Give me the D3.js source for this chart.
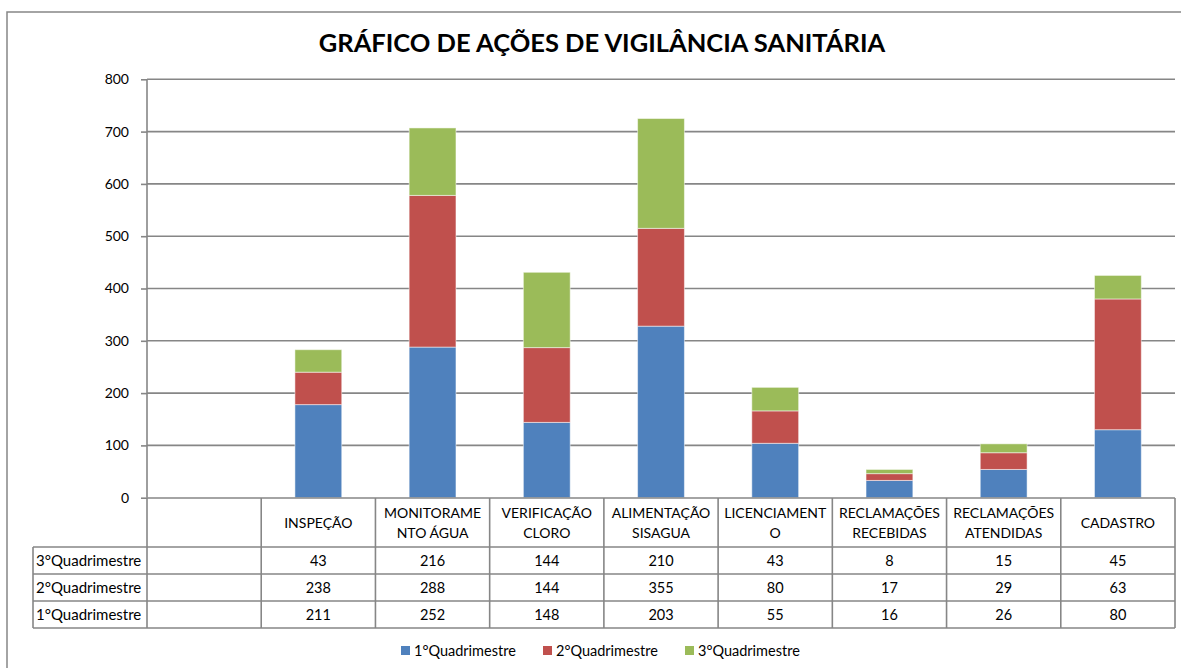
<!DOCTYPE html>
<html>
<head>
<meta charset="utf-8">
<script src="https://cdn.jsdelivr.net/npm/d3@7"></script>
<style>
  html, body { margin: 0; background: #fff; overflow: hidden; }
  svg { display: block; }
  text { font-family: Lato, "Open Sans", sans-serif; fill: #000; }
</style>
</head>
<body>
<div id="chart"></div>
<script>
// categories (first column is empty in the original sheet)
var categories = ["", "INSPEÇÃO", "MONITORAMENTO ÁGUA", "VERIFICAÇÃO CLORO", "ALIMENTAÇÃO SISAGUA",
                  "LICENCIAMENTO", "RECLAMAÇÕES RECEBIDAS", "RECLAMAÇÕES ATENDIDAS", "CADASTRO"];
// header text as it wraps in the table cells
var headerLines = [[], ["INSPEÇÃO"], ["MONITORAME", "NTO ÁGUA"], ["VERIFICAÇÃO", "CLORO"], ["ALIMENTAÇÃO", "SISAGUA"],
                   ["LICENCIAMENT", "O"], ["RECLAMAÇÕES", "RECEBIDAS"], ["RECLAMAÇÕES", "ATENDIDAS"], ["CADASTRO"]];

var seriesNames = ["1°Quadrimestre", "2°Quadrimestre", "3°Quadrimestre"];
var colors = ["#4F81BD", "#C0504D", "#9BBB59"];

// bar segments as drawn in the chart
var q1Bars = [0, 178, 288, 144, 328, 104, 33, 54, 130];
var q2Bars = [0, 62, 290, 143, 187, 62, 13, 32, 250];
var q3Bars = [0, 43, 129, 144, 210, 45, 8, 17, 45];

// values printed in the data table
var q3Table = ["", 43, 216, 144, 210, 43, 8, 15, 45];
var q2Table = ["", 238, 288, 144, 355, 80, 17, 29, 63];
var q1Table = ["", 211, 252, 148, 203, 55, 16, 26, 80];

var yTicks = [0, 100, 200, 300, 400, 500, 600, 700, 800];

var w = 1181, h = 668;
var gridColor = "#868686";

var svg = d3.select("#chart").append("svg")
            .attr("width", w)
            .attr("height", h);

// outer chart frame: only the left and top edges are inside the picture
svg.append("path")
   .attr("d", "M7," + h + "V12H" + w)
   .attr("fill", "none")
   .attr("stroke", gridColor)
   .attr("stroke-width", 1.5);

svg.append("text")
   .attr("x", 602).attr("y", 52)
   .attr("text-anchor", "middle")
   .style("font-size", "25.5px")
   .style("font-weight", "bold")
   .text("GRÁFICO DE AÇÕES DE VIGILÂNCIA SANITÁRIA");

var x = d3.scaleBand()
          .domain(d3.range(categories.length))
          .range([147, 1175])
          .padding(0);

var y = d3.scaleLinear()
          .domain([0, 800])
          .range([497.7, 79.3]);

// gridlines
svg.append("g")
   .selectAll("line")
   .data(yTicks.slice(1))
   .enter().append("line")
   .attr("x1", 147).attr("x2", 1175)
   .attr("y1", function(d){ return y(d); })
   .attr("y2", function(d){ return y(d); })
   .attr("stroke", gridColor)
   .attr("stroke-width", 1.6);

// y axis
var yAxis = svg.append("g")
   .attr("transform", "translate(147,0)")
   .call(d3.axisLeft(y).tickValues(yTicks).tickSize(6).tickPadding(12));
yAxis.selectAll("line, path").attr("stroke", gridColor).attr("stroke-width", 1.6);
yAxis.select(".domain").attr("d", "M0," + y(0) + "V" + y(800));
yAxis.selectAll("text").style("font-size", "14px").style("font-family", "Lato, sans-serif").attr("fill", "#000");

// stacked bars
var rows = categories.map(function(c, i){
  return {i: i, q1: q1Bars[i], q2: q2Bars[i], q3: q3Bars[i]};
});
var stack = d3.stack().keys(["q1", "q2", "q3"]);
var layers = stack(rows);

var barW = x.bandwidth() * 0.41;

svg.append("g")
   .selectAll("g")
   .data(layers)
   .enter().append("g")
   .attr("fill", function(d, i){ return colors[i]; })
   .selectAll("rect")
   .data(function(d){ return d.filter(function(s){ return s[1] - s[0] > 0; }); })
   .enter().append("rect")
   .attr("x", function(d){ return x(d.data.i) + (x.bandwidth() - barW) / 2; })
   .attr("width", barW)
   .attr("y", function(d){ return y(d[1]); })
   .attr("height", function(d){ return y(d[0]) - y(d[1]); })
   .attr("stroke", "#fff")
   .attr("stroke-opacity", 0.5)
   .attr("stroke-width", 1);

// data table
var table = svg.append("g");
var rowTop = [498, 547, 574, 601, 628];
var labelLeft = 33;

function hline(x1, x2, yy){
  table.append("line").attr("x1", x1).attr("x2", x2).attr("y1", yy).attr("y2", yy)
       .attr("stroke", gridColor).attr("stroke-width", 1.6);
}
function vline(xx, y1, y2){
  table.append("line").attr("x1", xx).attr("x2", xx).attr("y1", y1).attr("y2", y2)
       .attr("stroke", gridColor).attr("stroke-width", 1.6);
}

hline(147, 1175, rowTop[0]);
for (var r = 1; r < rowTop.length; r++) hline(labelLeft, 1175, rowTop[r]);
vline(labelLeft, rowTop[1], rowTop[4]);
for (var c = 0; c <= categories.length; c++) {
  var xx = c < categories.length ? x(c) : x.range()[1];
  vline(xx, rowTop[0], rowTop[4]);
}

// header cells
categories.forEach(function(cat, i){
  var lines = headerLines[i];
  var cx = x(i) + x.bandwidth() / 2;
  var cy = (rowTop[0] + rowTop[1]) / 2;
  lines.forEach(function(t, k){
    table.append("text")
         .attr("x", cx)
         .attr("y", cy + (k - (lines.length - 1) / 2) * 20 + 5)
         .attr("text-anchor", "middle")
         .style("font-size", "14px")
         .text(t);
  });
});

// value rows
var tableRows = [q3Table, q2Table, q1Table];
var rowLabels = ["3°Quadrimestre", "2°Quadrimestre", "1°Quadrimestre"];
tableRows.forEach(function(vals, r){
  var cy = (rowTop[r + 1] + rowTop[r + 2]) / 2 + 5;
  table.append("text")
       .attr("x", labelLeft + 3).attr("y", cy)
       .style("font-size", "15px")
       .text(rowLabels[r]);
  vals.forEach(function(v, i){
    table.append("text")
         .attr("x", x(i) + x.bandwidth() / 2)
         .attr("y", cy)
         .attr("text-anchor", "middle")
         .style("font-size", "14.5px")
         .text(v);
  });
});

// legend
var legendX = [401, 543, 685];
var legend = svg.append("g")
   .selectAll("g")
   .data(seriesNames)
   .enter().append("g")
   .attr("transform", function(d, i){ return "translate(" + legendX[i] + ",646)"; });
legend.append("rect")
      .attr("width", 9).attr("height", 9)
      .attr("fill", function(d, i){ return colors[i]; });
legend.append("text")
      .attr("x", 13).attr("y", 10)
      .style("font-size", "14.5px")
      .text(function(d){ return d; });
</script>
</body>
</html>
